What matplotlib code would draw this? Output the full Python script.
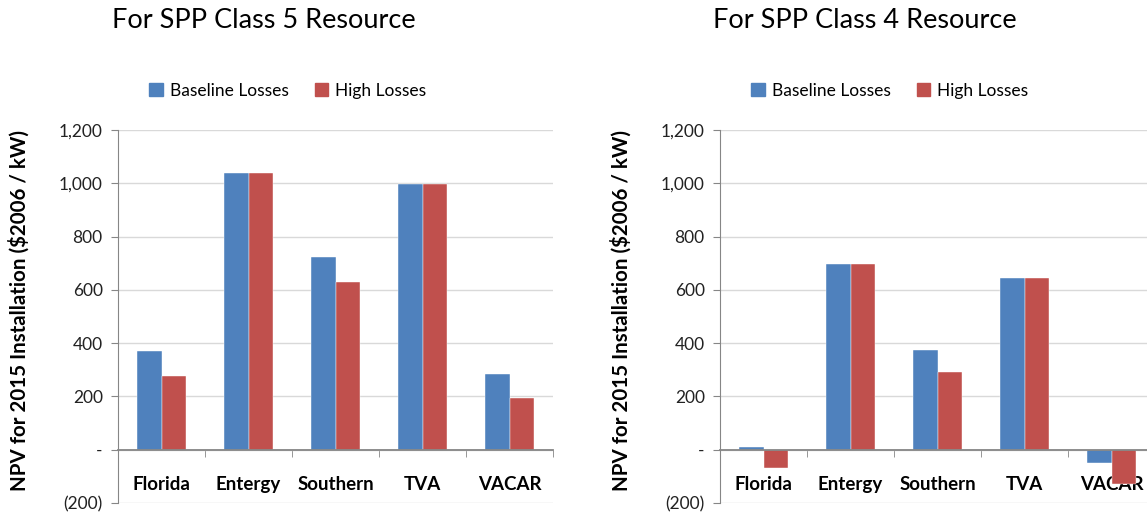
import matplotlib
matplotlib.use('Agg')
import matplotlib.pyplot as plt
from matplotlib.ticker import FuncFormatter, FixedLocator
from matplotlib.patches import Patch

regions = ['Florida', 'Entergy', 'Southern', 'TVA', 'VACAR']
class5_baseline = [370, 1040, 725, 997, 285]
class5_high = [275, 1040, 630, 997, 195]
class4_baseline = [12, 698, 375, 645, -50]
class4_high = [-70, 698, 290, 645, -127]

titles = ['For SPP Class 5 Resource', 'For SPP Class 4 Resource']
series_names = ['Baseline Losses', 'High Losses']
blue = '#4F81BD'
red = '#C0504D'

plt.rcParams['font.family'] = ['Lato', 'DejaVu Sans']

W, H = 1147, 515
fig = plt.figure(figsize=(W / 100, H / 100), dpi=100)


def fmt(v, pos):
	if v == 0:
		return '-'
	if v < 0:
		return '({:,.0f})'.format(-v)
	return '{:,.0f}'.format(v)


def panel(left_px, title, title_cx, base, high):
	ax = fig.add_axes([left_px / W, (H - 503) / H, 435 / W, 373 / H])
	x = list(range(len(regions)))
	bw = 0.285
	ax.bar([i - bw / 2 for i in x], base, bw, color=blue, edgecolor='white', linewidth=0.3, zorder=2)
	ax.bar([i + bw / 2 for i in x], high, bw, color=red, edgecolor='white', linewidth=0.3, zorder=2)

	ax.set_xlim(-0.5, len(regions) - 0.5)
	ax.set_ylim(-200, 1200)
	ax.set_yticks(range(-200, 1201, 200))
	ax.yaxis.set_major_formatter(FuncFormatter(fmt))
	ax.grid(axis='y', color='#d9d9d9', linewidth=1, zorder=0)
	ax.set_axisbelow(True)

	for s in ['top', 'right']:
		ax.spines[s].set_visible(False)
	ax.spines['left'].set_color('#868686')
	ax.spines['bottom'].set_position(('data', 0))
	ax.spines['bottom'].set_color('#868686')
	ax.spines['bottom'].set_linewidth(1.3)

	ax.set_xticks(x)
	ax.set_xticklabels(regions, fontsize=13.5, fontweight='bold')
	ax.xaxis.set_minor_locator(FixedLocator([i + 0.5 for i in x]))
	ax.tick_params(axis='x', which='major', length=0, pad=19)
	ax.tick_params(axis='x', which='minor', length=5, color='#868686', direction='out')
	ax.tick_params(axis='y', length=5, color='#868686', labelsize=12.5, pad=6, labelcolor='#222222')

	ax.set_ylabel('NPV for 2015 Installation ($2006 / kW)', fontsize=14.8, fontweight='bold')
	ax.yaxis.set_label_coords(-0.203, 0.515)

	handles = [Patch(color=blue), Patch(color=red)]
	ax.legend(handles, series_names, loc='center', bbox_to_anchor=(0.39, 1.105), ncol=2,
		frameon=False, fontsize=12.5, handlelength=0.8, handleheight=0.8, handletextpad=0.4,
		columnspacing=1.5)

	fig.text(title_cx / W, 1 - 20 / H, title, fontsize=19.5, ha='center', va='center')
	return ax


panel(118, titles[0], 264, class5_baseline, class5_high)
panel(720, titles[1], 865, class4_baseline, class4_high)

fig.savefig('out.png', dpi=100)
